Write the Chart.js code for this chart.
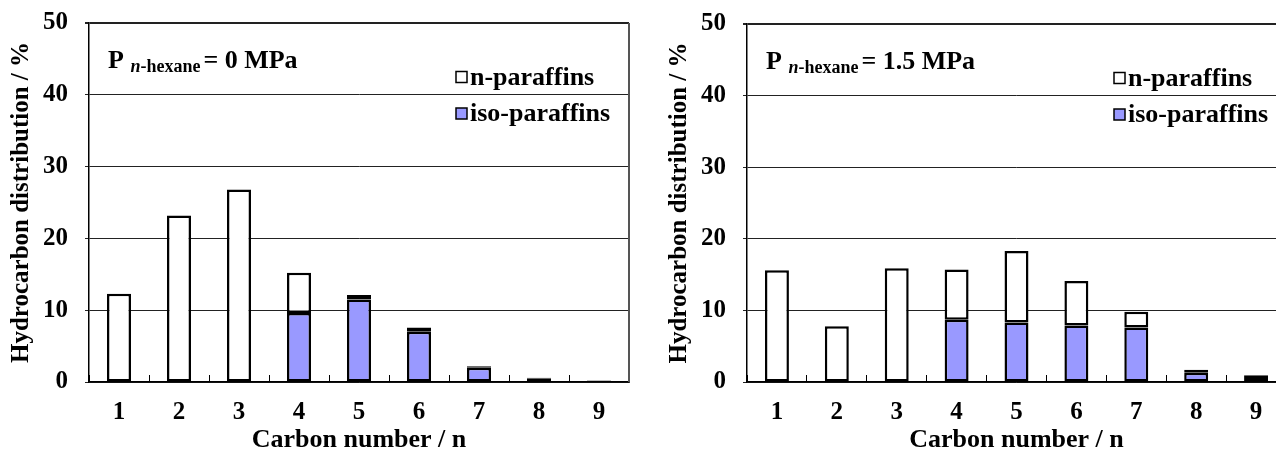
<!DOCTYPE html>
<html>
<head>
<meta charset="utf-8">
<script src="https://cdn.jsdelivr.net/npm/chart.js@4/dist/chart.umd.min.js"></script>
<style>
  html, body { margin: 0; padding: 0; background: #fff; overflow: hidden; }
  body { width: 1276px; height: 453px; position: relative; }
  .panel { position: absolute; top: 0; width: 640px; height: 453px; }
</style>
</head>
<body>
<div class="panel" style="left:0px"><canvas id="left" width="640" height="453"></canvas></div>
<div class="panel" style="left:656px"><canvas id="right" width="640" height="453"></canvas></div>
<script>
// carbon number on the x axis
const carbonNumbers = ['1', '2', '3', '4', '5', '6', '7', '8', '9'];

// P n-hexane = 0 MPa
const nParaffins0 = [12.3, 23.2, 26.8, 5.6, 0.6, 0.6, 0.2, 0.15, 0.1];
const isoParaffins0 = [0, 0, 0, 9.6, 11.5, 7.0, 2.0, 0.45, 0.1];

// P n-hexane = 1.5 MPa
const nParaffins15 = [15.6, 7.8, 15.9, 7.0, 10.0, 6.2, 2.2, 0.4, 0.25];
const isoParaffins15 = [0, 0, 0, 8.7, 8.3, 7.9, 7.6, 1.3, 0.7];

const yMin = 0;
const yMax = 50;
const yStep = 10;

const ISO_COLOR = '#9999FF';
const FONT = '"Liberation Serif", "Times New Roman", serif';

Chart.defaults.font.family = FONT;
Chart.defaults.font.weight = 'bold';
Chart.defaults.color = '#000';

// frame, pressure label and legend, drawn relative to the plot area
const overlay = {
    id: 'overlay',
    afterDraw(chart, args, opts) {
        const { ctx, chartArea: a } = chart;
        ctx.save();

        ctx.strokeStyle = '#555';
        ctx.lineWidth = 2;
        ctx.beginPath();
        ctx.moveTo(a.right, a.top);
        ctx.lineTo(a.right, a.bottom);
        ctx.stroke();

        // P n-hexane = x MPa
        ctx.fillStyle = '#000';
        ctx.textBaseline = 'alphabetic';
        ctx.textAlign = 'left';
        let x = a.left + 19;
        const y = a.top + 45;
        ctx.font = 'bold 26px ' + FONT;
        ctx.fillText('P', x, y);
        x += ctx.measureText('P ').width;
        ctx.font = 'italic bold 18px ' + FONT;
        ctx.fillText('n', x, y + 4);
        x += ctx.measureText('n').width;
        ctx.font = 'bold 18px ' + FONT;
        ctx.fillText('-hexane', x, y + 4);
        x += ctx.measureText('-hexane').width + 3;
        ctx.font = 'bold 26px ' + FONT;
        ctx.fillText('= ' + opts.pressure, x, y);

        // legend, top series first
        const items = chart.data.datasets.slice().reverse();
        ctx.textBaseline = 'middle';
        items.forEach((ds, i) => {
            const cy = a.top + 54 + i * 36.5;
            const bx = a.left + 367;
            ctx.fillStyle = ds.backgroundColor;
            ctx.fillRect(bx, cy - 5.5, 11, 11);
            ctx.strokeStyle = '#000';
            ctx.lineWidth = 1.5;
            ctx.strokeRect(bx, cy - 5.5, 11, 11);
            ctx.fillStyle = '#000';
            ctx.font = 'bold 26px ' + FONT;
            ctx.fillText(ds.label, bx + 14, cy + 1);
        });
        ctx.restore();
    },
};

function buildDatasets(nValues, isoValues) {
    const common = {
        borderColor: '#000',
        borderWidth: 2.5,
        borderSkipped: false,
        barPercentage: 0.4,
        categoryPercentage: 1.0,
    };
    return [
        { label: 'iso-paraffins', data: isoValues, backgroundColor: ISO_COLOR, ...common },
        { label: 'n-paraffins', data: nValues, backgroundColor: '#FFFFFF', ...common },
    ];
}

function renderPanel({ canvas, nValues, isoValues, pressure, yWidth, titlePad, rightPad, topPad }) {
    return new Chart(canvas, {
        type: 'bar',
        data: {
            labels: carbonNumbers,
            datasets: buildDatasets(nValues, isoValues),
        },
        options: {
            responsive: false,
            animation: false,
            layout: { padding: { left: 0, top: topPad, right: rightPad, bottom: 0 } },
            plugins: {
                legend: { display: false },
                tooltip: { enabled: false },
                overlay: { pressure },
            },
            scales: {
                x: {
                    stacked: true,
                    grid: {
                        display: true,
                        drawOnChartArea: false,
                        offset: true,
                        tickLength: -7,
                        color: '#000',
                        lineWidth: 1,
                    },
                    border: { color: '#000', width: 1.5 },
                    ticks: { font: { size: 25, weight: 'bold' }, padding: 23 },
                    title: {
                        display: true,
                        text: 'Carbon number / n',
                        font: { size: 26, weight: 'bold', lineHeight: 1 },
                        padding: { top: 0, bottom: 0 },
                    },
                    afterFit(scale) {
                        scale.height = 71;
                        scale.paddingLeft = 0;
                        scale.paddingRight = 0;
                    },
                },
                y: {
                    stacked: true,
                    min: yMin,
                    max: yMax,
                    ticks: { stepSize: yStep, font: { size: 25, weight: 'bold' }, padding: 17 },
                    grid: {
                        color: '#222',
                        lineWidth: (c) => (c.tick && c.tick.value === yMax ? 2 : 1),
                        tickLength: 4,
                    },
                    border: { color: '#000', width: 1.5 },
                    title: {
                        display: true,
                        text: 'Hydrocarbon distribution / %',
                        font: { size: 25, weight: 'bold' },
                        padding: { top: titlePad, bottom: 0 },
                    },
                    afterFit(scale) {
                        scale.width = yWidth;
                        scale.paddingTop = 0;
                        scale.paddingBottom = 0;
                    },
                },
            },
        },
        plugins: [overlay],
    });
}

renderPanel({
    canvas: document.getElementById('left'),
    nValues: nParaffins0,
    isoValues: isoParaffins0,
    pressure: '0 MPa',
    yWidth: 89,
    titlePad: 7,
    rightPad: 11,
    topPad: 23,
});

renderPanel({
    canvas: document.getElementById('right'),
    nValues: nParaffins15,
    isoValues: isoParaffins15,
    pressure: '1.5 MPa',
    yWidth: 91,
    titlePad: 9,
    rightPad: 10,
    topPad: 24,
});
</script>
</body>
</html>
